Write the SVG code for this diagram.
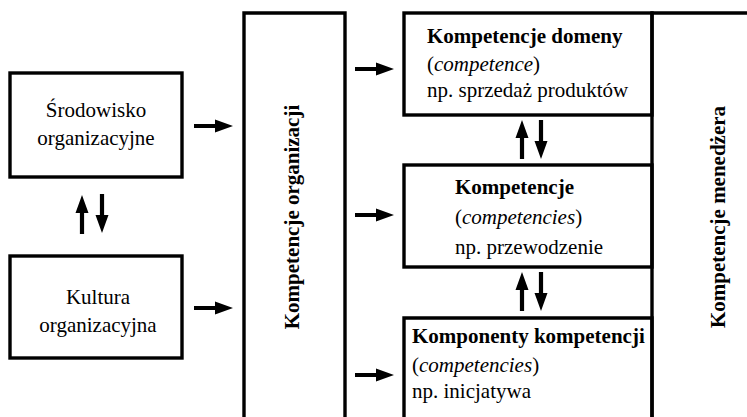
<svg xmlns="http://www.w3.org/2000/svg" xmlns:xlink="http://www.w3.org/1999/xlink" width="747" height="417" viewBox="0 0 747 417">
<style>
.box{fill:none;stroke:#000;stroke-width:3.4}
.ln{fill:none;stroke:#000;stroke-width:3.4}
text{font-family:"Liberation Serif","Times New Roman",serif;font-size:21px;fill:#000}
.b{font-weight:bold}
.i{font-style:italic}
.c{text-anchor:middle}
</style>
<defs>
<path id="ar" d="M0,-2.1 H21 V-6.5 L39,0 L21,6.5 V2.1 H0 Z" fill="#000"/>
</defs>
<rect width="747" height="417" fill="#fff"/>
<g id="srodowisko">
<rect class="box" x="10" y="73" width="172" height="104"/>
<text class="c" x="96" y="117" font-size="22">Środowisko</text>
<text class="c" x="96" y="145">organizacyjne</text>
</g>
<g id="kultura">
<rect class="box" x="10" y="256" width="172" height="102"/>
<text class="c" x="98" y="304" font-size="22">Kultura</text>
<text class="c" x="98" y="332">organizacyjna</text>
</g>
<g id="kompetencje-organizacji">
<path class="ln" d="M244,420 V13 H345 V420"/>
<text class="b c" transform="translate(299,217) rotate(-90)">Kompetencje organizacji</text>
</g>
<g id="kompetencje-domeny">
<rect class="box" x="404" y="13" width="248" height="102"/>
<text class="b" x="427" y="43" font-size="22">Kompetencje domeny</text>
<text x="427" y="71">(<tspan class="i">competence</tspan>)</text>
<text x="427" y="97">np. sprzedaż produktów</text>
</g>
<g id="kompetencje">
<rect class="box" x="404" y="165" width="248" height="102"/>
<text class="b" x="455" y="194">Kompetencje</text>
<text x="455" y="224">(<tspan class="i">competencies</tspan>)</text>
<text x="455" y="254">np. przewodzenie</text>
</g>
<g id="komponenty-kompetencji">
<path class="ln" d="M404,420 V318 H652 V420"/>
<text class="b" x="412" y="343">Komponenty kompetencji</text>
<text x="412" y="372">(<tspan class="i">competencies</tspan>)</text>
<text x="412" y="398">np. inicjatywa</text>
</g>
<g id="kompetencje-menedzera">
<path class="ln" d="M652,420 V13 H750"/>
<text class="b c" transform="translate(725,217) rotate(-90)">Kompetencje menedżera</text>
</g>
<g id="connectors">
<use xlink:href="#ar" transform="translate(194,126)"/>
<use xlink:href="#ar" transform="translate(194,308)"/>
<use xlink:href="#ar" transform="translate(355,69)"/>
<use xlink:href="#ar" transform="translate(355,215)"/>
<use xlink:href="#ar" transform="translate(355,375)"/>
<use xlink:href="#ar" transform="translate(82,234) rotate(-90)"/>
<use xlink:href="#ar" transform="translate(102,194) rotate(90)"/>
<use xlink:href="#ar" transform="translate(522,159) rotate(-90)"/>
<use xlink:href="#ar" transform="translate(541,120) rotate(90)"/>
<use xlink:href="#ar" transform="translate(522,311) rotate(-90)"/>
<use xlink:href="#ar" transform="translate(541,272) rotate(90)"/>
</g>
</svg>
